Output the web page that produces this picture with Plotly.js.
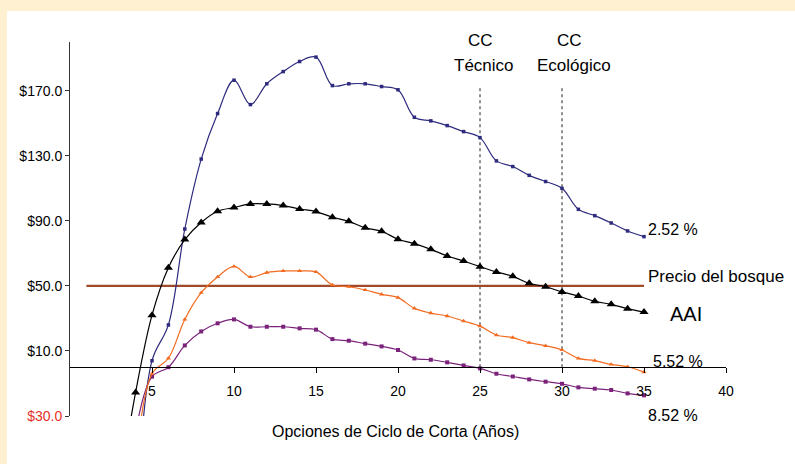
<!DOCTYPE html>
<html>
<head>
<meta charset="utf-8">
<script src="https://cdn.plot.ly/plotly-3.0.1.min.js"></script>
<style>
html, body { margin: 0; padding: 0; background: #FFF0D2; width: 795px; height: 464px; overflow: hidden; }
#chart { position: absolute; left: 7px; top: 11px; width: 788px; height: 453px; background: #fff; }
</style>
</head>
<body>
<div id="chart"></div>
<script>
// Cutting-cycle options (years)
const years = [4,5,6,7,8,9,10,11,12,13,14,15,16,17,18,19,20,21,22,23,24,25,26,27,28,29,30,31,32,33,34,35];
const yearsAAI = [3,4,5,6,7,8,9,10,11,12,13,14,15,16,17,18,19,20,21,22,23,24,25,26,27,28,29,30,31,32,33,34,35];

// Net present value at 2.52 %
const v252 = [-100, 4, 26, 85, 128, 156, 176.5, 161.5, 174.3, 181.8, 188, 190.7, 173.2, 174.3, 174.3, 172.6, 170.6,
  153.7, 151.5, 148.6, 144.9, 141.2, 126.9, 123.4, 118, 114.2, 110, 97.1, 93.2, 88.7, 83.8, 80.3];
// Average annual increment (AAI)
const vAAI = [-75, -15.5, 32, 61.2, 78.5, 89, 95.9, 98.2, 100.4, 100.4, 99.4, 97.3, 95.7, 92.2, 89.7, 85.7, 83.6,
  78.7, 76, 72.5, 68.4, 65.3, 61.8, 58.6, 55.9, 51.6, 49.5, 46.3, 43.8, 40.5, 38.7, 36, 33.9];
// Net present value at 5.52 %
const v552 = [-60, -4, 5.5, 29.4, 45.8, 55.5, 62, 55.5, 58.2, 59.2, 59.2, 58.6, 50.6, 49.5, 47.5, 44.8, 42.8,
  36.2, 33.3, 31.5, 28.4, 25.3, 19.8, 18.2, 15.1, 13.2, 10.6, 5.4, 4, 1.7, 0.3, -3];
// Net present value at 8.52 %
const v852 = [-40, -5.8, 0, 13.4, 22, 27, 29.4, 24.9, 24.9, 24.9, 23.9, 23.1, 17.3, 16.3, 14.5, 12.8, 10.6,
  5.4, 4.6, 3, 1.1, -0.7, -4, -5.7, -7.5, -8.9, -10.2, -12.4, -13.2, -14, -16.1, -17.3];

// Forest price line
const priceX = [1, 35];
const priceV = [50, 50];

// Cutting-cycle reference years (technical, ecological)
const ccYears = [25, 30];
const ccTop = 172.5;

// Axis ticks
const yTickVals = [-30, 10, 50, 90, 130, 170];
const yTickText = ['<span style="fill:#E8302A;color:#E8302A">$30.0</span>', '$10.0', '$50.0', '$90.0', '$130.0', '$170.0'];
const xTickVals = [5, 10, 15, 20, 25, 30, 35, 40];

const FONT = 'Arial, "Liberation Sans", sans-serif';

const traces = [];
ccYears.forEach(function (cx) {
  traces.push({
    x: [cx, cx], y: [0, ccTop], mode: 'lines', type: 'scatter',
    line: { color: '#222222', width: 1, dash: 'dot' }, hoverinfo: 'skip', showlegend: false
  });
});
traces.push({
  x: priceX, y: priceV, mode: 'lines', type: 'scatter',
  line: { color: '#A04A2A', width: 2.2 }, showlegend: false
});
traces.push({
  x: years, y: v252, mode: 'lines+markers', type: 'scatter',
  line: { color: '#2E2B7F', width: 1.2, shape: 'spline', smoothing: 1 },
  marker: { symbol: 'square', size: 3.5, color: '#2E2B7F' }, showlegend: false
});
traces.push({
  x: years, y: v852, mode: 'lines+markers', type: 'scatter',
  line: { color: '#7B237B', width: 1.2, shape: 'spline', smoothing: 1 },
  marker: { symbol: 'square', size: 4, color: '#7B237B' }, showlegend: false
});
traces.push({
  x: years, y: v552, mode: 'lines+markers', type: 'scatter',
  line: { color: '#F26B21', width: 1.2, shape: 'spline', smoothing: 1 },
  marker: { symbol: 'triangle-up', size: 4.5, color: '#F26B21' }, showlegend: false
});
traces.push({
  x: yearsAAI, y: vAAI, mode: 'lines+markers', type: 'scatter',
  line: { color: '#000000', width: 1.2, shape: 'spline', smoothing: 1 },
  marker: { symbol: 'triangle-up', size: 8, color: '#000000' }, showlegend: false
});

function ann(text, x, y, size, xanchor, yref) {
  return { text: text, x: x, y: y, xref: 'x', yref: yref || 'y', showarrow: false,
    xanchor: xanchor || 'center', yanchor: 'middle',
    font: { family: FONT, size: size, color: '#000' } };
}

// plot area: top 30.7px, height 374.3px inside the chart div
const PTOP = 30.7, PH = 374.3;
function py(pageY) { return (PTOP + PH - (pageY - 11)) / PH; }

const layout = {
  width: 788, height: 453,
  margin: { l: 63, r: 69, t: PTOP, b: 48, pad: 0 },
  paper_bgcolor: '#ffffff', plot_bgcolor: '#ffffff',
  font: { family: FONT, size: 14, color: '#000' },
  showlegend: false,
  xaxis: {
    range: [0, 40], anchor: 'free', position: 30 / 230,
    showline: true, linecolor: '#000', linewidth: 1,
    showgrid: false, zeroline: false,
    tickmode: 'array', tickvals: xTickVals,
    ticks: 'outside', ticklen: 5, tickcolor: '#000', tickwidth: 1,
    ticklabelstandoff: 6,
    tickfont: { family: FONT, size: 14, color: '#000' }
  },
  yaxis: {
    range: [-30, 200],
    showline: true, linecolor: '#333', linewidth: 1,
    showgrid: false, zeroline: false,
    tickmode: 'array', tickvals: yTickVals, ticktext: yTickText,
    ticks: 'outside', ticklen: 4, tickcolor: '#333', tickwidth: 1,
    tickfont: { family: FONT, size: 14, color: '#000' }
  },
  annotations: [
    ann('CC', 25, py(40), 17, 'center', 'paper'),
    ann('Técnico', 25.26, py(65.7), 17, 'center', 'paper'),
    ann('CC', 30.44, py(40), 17, 'center', 'paper'),
    ann('Ecológico', 30.74, py(65.7), 17, 'center', 'paper'),
    ann('2.52 %', 35.1, 84.6, 16, 'left'),
    ann('Precio del bosque', 35.1, 55.5, 17, 'left'),
    ann('AAI', 36.45, 32.5, 20, 'left'),
    ann('5.52 %', 35.45, 3.8, 16, 'left'),
    ann('8.52 %', 35.1, py(415.3), 16, 'left', 'paper'),
    ann('Opciones de Ciclo de Corta (Años)', 19.85, py(432), 16, 'center', 'paper'),
    ann('0', -0.43, -15, 14)
  ]
};

Plotly.newPlot('chart', traces, layout, { staticPlot: true, displayModeBar: false });
</script>
</body>
</html>
